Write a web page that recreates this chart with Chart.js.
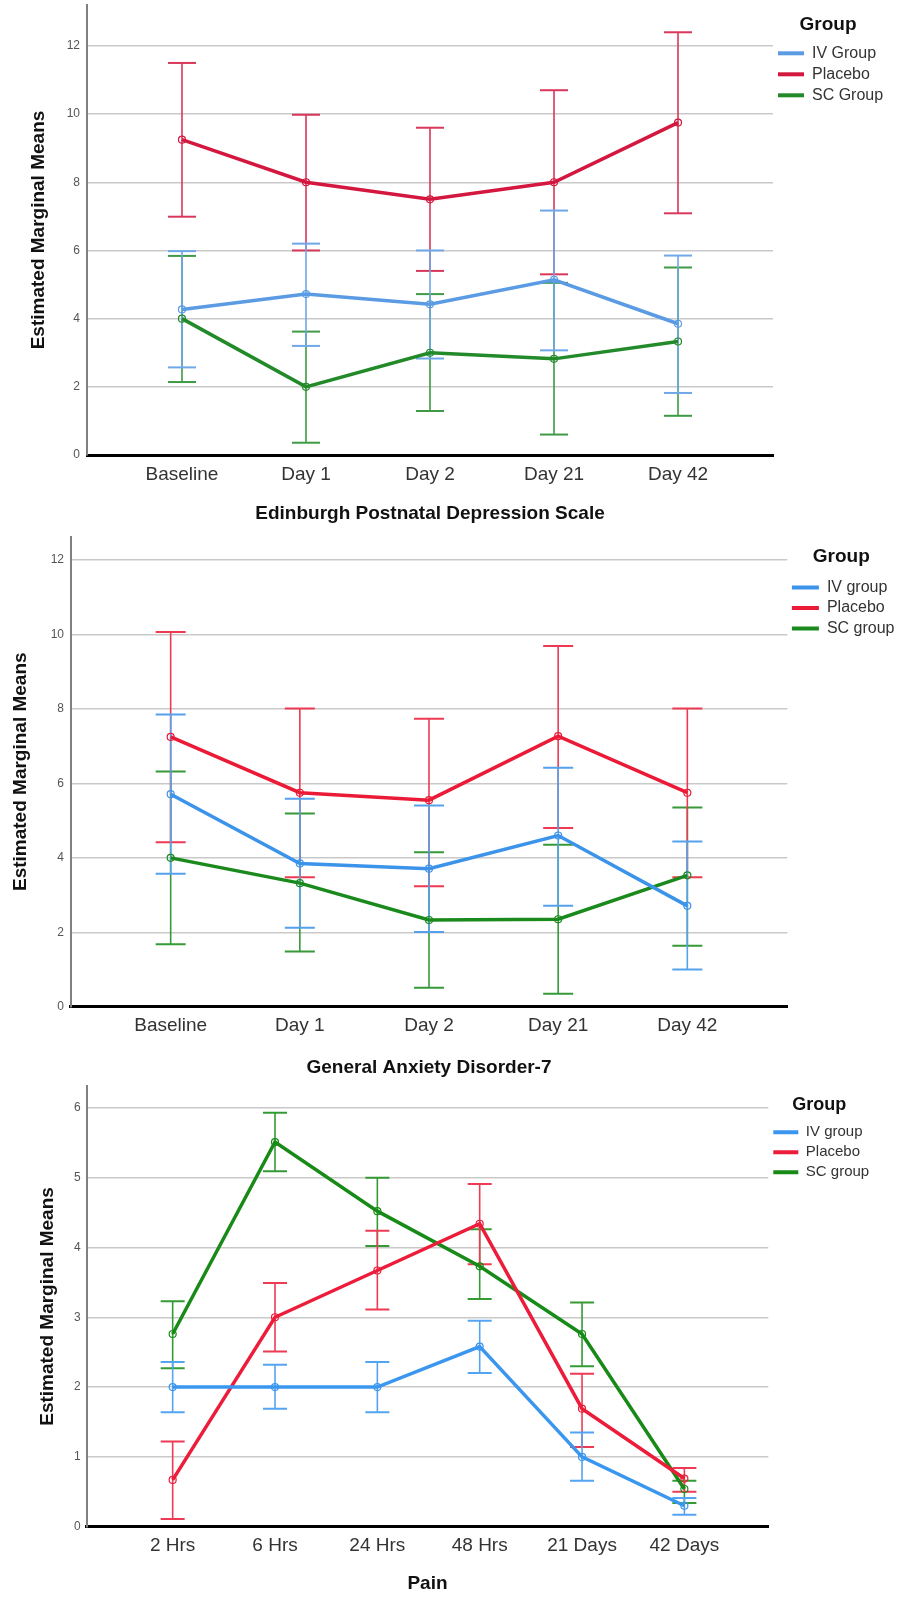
<!DOCTYPE html>
<html>
<head>
<meta charset="utf-8">
<script src="https://cdn.jsdelivr.net/npm/chart.js@4.4.0/dist/chart.umd.min.js"></script>
<style>
  body { margin: 0; background: #fff; width: 897px; height: 1597px; position: relative; overflow: hidden; }
  canvas { position: absolute; left: 0; }
</style>
</head>
<body>
<canvas id="epdsChart" width="897" height="530" style="top:0"></canvas>
<canvas id="gadChart" width="897" height="550" style="top:530px"></canvas>
<canvas id="painChart" width="897" height="517" style="top:1080px"></canvas>
<script>
// top panel - Edinburgh Postnatal Depression Scale
const epdsCategories = ['Baseline', 'Day 1', 'Day 2', 'Day 21', 'Day 42'];
const epdsIV = [4.27, 4.72, 4.42, 5.14, 3.85];
const epdsIVLow = [2.57, 3.2, 2.83, 3.07, 1.82];
const epdsIVHigh = [5.98, 6.2, 6.0, 7.17, 5.85];
const epdsPlacebo = [9.25, 8.0, 7.5, 8.0, 9.75];
const epdsPlaceboLow = [6.99, 6.0, 5.4, 5.3, 7.09];
const epdsPlaceboHigh = [11.5, 9.98, 9.6, 10.7, 12.4];
const epdsSC = [4.0, 2.0, 3.0, 2.82, 3.33];
const epdsSCLow = [2.14, 0.36, 1.29, 0.6, 1.15];
const epdsSCHigh = [5.84, 3.62, 4.72, 5.05, 5.5];

// middle panel - General Anxiety Disorder-7
const gadCategories = ['Baseline', 'Day 1', 'Day 2', 'Day 21', 'Day 42'];
const gadIV = [5.71, 3.85, 3.71, 4.6, 2.71];
const gadIVLow = [3.57, 2.12, 2.01, 2.71, 1.0];
const gadIVHigh = [7.85, 5.59, 5.41, 6.42, 4.44];
const gadPlacebo = [7.25, 5.75, 5.55, 7.27, 5.75];
const gadPlaceboLow = [4.42, 3.48, 3.24, 4.8, 3.48];
const gadPlaceboHigh = [10.07, 8.01, 7.74, 9.69, 8.01];
const gadSC = [4.0, 3.32, 2.33, 2.35, 3.53];
const gadSCLow = [1.68, 1.48, 0.51, 0.35, 1.64];
const gadSCHigh = [6.32, 5.19, 4.15, 4.35, 5.35];

// bottom panel - Pain
const painCategories = ['2 Hrs', '6 Hrs', '24 Hrs', '48 Hrs', '21 Days', '42 Days'];
const painIV = [2.0, 2.0, 2.0, 2.58, 1.0, 0.3];
const painIVLow = [1.64, 1.69, 1.64, 2.2, 0.66, 0.17];
const painIVHigh = [2.36, 2.32, 2.36, 2.95, 1.35, 0.41];
const painPlacebo = [0.67, 3.0, 3.67, 4.34, 1.69, 0.69];
const painPlaceboLow = [0.11, 2.51, 3.11, 3.76, 1.14, 0.5];
const painPlaceboHigh = [1.22, 3.49, 4.24, 4.91, 2.19, 0.84];
const painSC = [2.76, 5.51, 4.52, 3.73, 2.76, 0.54];
const painSCLow = [2.27, 5.09, 4.02, 3.26, 2.3, 0.34];
const painSCHigh = [3.23, 5.93, 5.0, 4.26, 3.21, 0.66];

const scoreTicks = [0, 2, 4, 6, 8, 10, 12];
const painTicks = [0, 1, 2, 3, 4, 5, 6];

Chart.defaults.font.family = '"Liberation Sans", Arial, Helvetica, sans-serif';

// one dataset for the means, one for the CI whiskers (gaps between categories)
function groupSets(cats, groups, capHalf) {
  const sets = [];
  groups.forEach(g => {
    sets.push({
      label: g.name,
      data: cats.map((c, i) => ({ x: i, y: g.mean[i] })),
      borderColor: g.color, backgroundColor: g.color, borderWidth: 3.5,
      pointRadius: 3.5, pointBorderWidth: 1.2, pointBorderColor: g.color,
      pointBackgroundColor: 'rgba(255,255,255,0)', order: 0
    });
    sets.push({
      label: g.name + ' CI', whisker: true,
      data: cats.flatMap((c, i) => [{ x: i, y: g.low[i] }, { x: i, y: g.high[i] }, { x: i, y: null }]),
      borderColor: g.ci, borderWidth: 1.6, spanGaps: false,
      pointStyle: 'line', pointRadius: capHalf, pointBorderWidth: 2, pointBorderColor: g.ci, order: 1
    });
  });
  return sets;
}

function buildChart(id, cats, groups, yTicks, xTitle, p) {
  return new Chart(document.getElementById(id), {
    type: 'line',
    data: { datasets: groupSets(cats, groups, p.capHalf) },
    options: {
      responsive: false, animation: false, events: [],
      layout: { autoPadding: false, padding: { top: p.top, right: p.right, left: 0, bottom: 0 } },
      plugins: {
        tooltip: { enabled: false },
        legend: {
          position: 'right', align: 'start', maxWidth: p.legendW,
          title: { display: true, text: 'Group', color: '#111', font: { size: p.legTitle, weight: 'bold' }, padding: { top: p.legTop, bottom: p.legBottom } },
          labels: {
            usePointStyle: true, pointStyle: 'line', pointStyleWidth: p.swatch, padding: p.itemPad,
            color: '#333', font: { size: p.legFont },
            generateLabels: chart => Chart.defaults.plugins.legend.labels.generateLabels(chart)
              .filter(l => !chart.data.datasets[l.datasetIndex].whisker)
              .map(l => Object.assign(l, { lineWidth: 4 }))
          }
        }
      },
      scales: {
        x: {
          type: 'linear', min: p.xMin, max: p.xMax,
          afterBuildTicks: s => { s.ticks = cats.map((c, i) => ({ value: i })); },
          afterFit: s => { s.height = p.xH; s.paddingLeft = 0; s.paddingRight = 0; },
          grid: { display: false, drawTicks: false },
          border: { color: '#000', width: 3 },
          ticks: { autoSkip: false, maxRotation: 0, padding: 8, color: '#333', font: { size: 19 }, callback: v => cats[v] },
          title: { display: true, text: xTitle, color: '#111', font: { size: 19, weight: 'bold' }, padding: { top: 0, bottom: p.xTitlePad } }
        },
        y: {
          min: 0, max: p.yMax,
          afterBuildTicks: s => { s.ticks = yTicks.map(v => ({ value: v })); },
          afterFit: s => { s.width = p.yW; s.paddingTop = 0; s.paddingBottom = 0; },
          grid: { color: '#c9c9c9', lineWidth: 1.5, drawTicks: false },
          border: { color: '#808080', width: 2 },
          ticks: { padding: p.yTickPad, color: '#555', font: { size: 12 } },
          title: { display: true, text: 'Estimated Marginal Means', color: '#111', font: { size: 19, weight: 'bold' }, padding: { top: p.yTitlePad, bottom: 0 } }
        }
      }
    }
  });
}

buildChart('epdsChart', epdsCategories, [
  { name: 'IV Group', color: '#5a9be4', ci: '#6fa8e8', mean: epdsIV, low: epdsIVLow, high: epdsIVHigh },
  { name: 'Placebo', color: '#d3173f', ci: '#d9385b', mean: epdsPlacebo, low: epdsPlaceboLow, high: epdsPlaceboHigh },
  { name: 'SC Group', color: '#238a2a', ci: '#3e9a44', mean: epdsSC, low: epdsSCLow, high: epdsSCHigh }
], scoreTicks, 'Edinburgh Postnatal Depression Scale', {
  top: 5, right: 14, legendW: 110, xH: 75, yW: 87, xTitlePad: 4.6, yTitlePad: 27.6, yTickPad: 7,
  xMin: -0.766, xMax: 4.766, yMax: 13.2, legTitle: 19, legTop: 10.5, legBottom: 2, itemPad: 5, legFont: 16, swatch: 26, capHalf: 14
});

buildChart('gadChart', gadCategories, [
  { name: 'IV group', color: '#3c93ea', ci: '#55a1ec', mean: gadIV, low: gadIVLow, high: gadIVHigh },
  { name: 'Placebo', color: '#eb1b37', ci: '#ed3a52', mean: gadPlacebo, low: gadPlaceboLow, high: gadPlaceboHigh },
  { name: 'SC group', color: '#1a8a1c', ci: '#369a38', mean: gadSC, low: gadSCLow, high: gadSCHigh }
], scoreTicks, 'General Anxiety Disorder-7', {
  top: 6.7, right: 1.7, legendW: 108, xH: 73.3, yW: 70.7, xTitlePad: 1.3, yTitlePad: 9.3, yTickPad: 6.7,
  xMin: -0.774, xMax: 4.774, yMax: 12.63, legTitle: 19, legTop: 10.4, legBottom: 4.9, itemPad: 4.6, legFont: 16, swatch: 27, capHalf: 15
});

buildChart('painChart', painCategories, [
  { name: 'IV group', color: '#3a96ef', ci: '#53a4f1', mean: painIV, low: painIVLow, high: painIVHigh },
  { name: 'Placebo', color: '#ec1c3a', ci: '#ee3b55', mean: painPlacebo, low: painPlaceboLow, high: painPlaceboHigh },
  { name: 'SC group', color: '#178a17', ci: '#349a34', mean: painSC, low: painSCLow, high: painSCHigh }
], painTicks, 'Pain', {
  top: 6.2, right: 26.7, legendW: 102, xH: 70.3, yW: 86.7, xTitlePad: 2.3, yTitlePad: 35.9, yTickPad: 6,
  xMin: -0.84, xMax: 5.82, yMax: 6.31, legTitle: 18, legTop: 9.5, legBottom: 2.5, itemPad: 5, legFont: 15, swatch: 25, capHalf: 12
});
</script>
</body>
</html>
